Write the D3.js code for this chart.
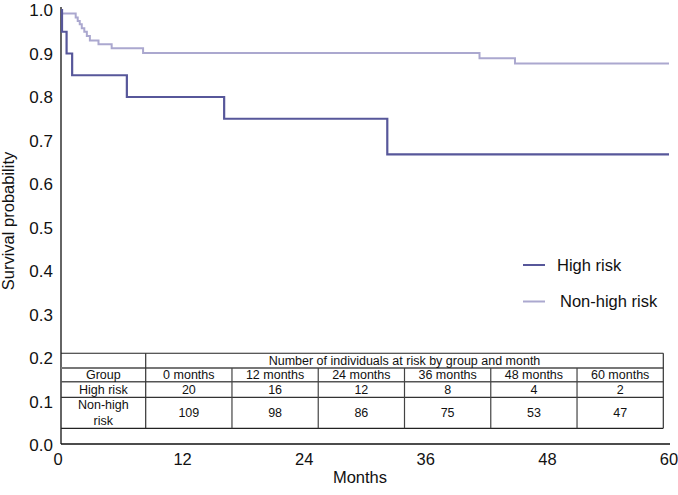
<!DOCTYPE html>
<html>
<head>
<meta charset="utf-8">
<script src="https://cdn.jsdelivr.net/npm/d3@7"></script>
<style>
  html, body { margin: 0; padding: 0; background: #fff; }
  svg { display: block; font-family: "Liberation Sans", Arial, Helvetica, sans-serif; }
</style>
</head>
<body>
<svg id="chart" width="678" height="495"></svg>
<script>
// ---- data ----
const xTicks = [0, 12, 24, 36, 48, 60];
const yTicks = [0, 0.1, 0.2, 0.3, 0.4, 0.5, 0.6, 0.7, 0.8, 0.9, 1.0];
const highRiskTimes = [0, 0.1, 0.55, 1.1, 6.5, 16.1, 32.2, 60];
const highRiskSurv  = [1.0, 0.95, 0.90, 0.85, 0.80, 0.75, 0.668, 0.668];
const nonHighTimes = [0, 0.1, 1.45, 1.65, 1.85, 2.05, 2.3, 2.55, 2.85, 3.7, 5.0, 8.1, 41.3, 44.8, 60];
const nonHighSurv  = [1.0, 0.992, 0.983, 0.975, 0.967, 0.958, 0.950, 0.940, 0.930, 0.921, 0.912, 0.901, 0.889, 0.877, 0.877];
const groups = ["High risk", "Non-high risk"];
const tableMonths = ["0 months", "12 months", "24 months", "36 months", "48 months", "60 months"];
const atRiskHigh = [20, 16, 12, 8, 4, 2];
const atRiskNonHigh = [109, 98, 86, 75, 53, 47];
const tableTitle = "Number of individuals at risk by group and month";

// ---- layout ----
const svg = d3.select("#chart");
const x = d3.scaleLinear().domain([0, 60]).range([61, 669]);
const y = d3.scaleLinear().domain([0, 1]).range([445, 10]);
const darkCol = "#57579a";
const lightCol = "#aba8cf";
const fs = 16.5;

// axes lines
svg.append("line").attr("x1", 61).attr("x2", 61).attr("y1", 7).attr("y2", 444)
  .attr("stroke", "#111").attr("stroke-width", 1.3);
svg.append("line").attr("x1", 61).attr("x2", 670).attr("y1", 444).attr("y2", 444)
  .attr("stroke", "#111").attr("stroke-width", 1.3);

// y tick labels
svg.append("g").selectAll("text").data(yTicks).join("text")
  .attr("x", 53).attr("y", d => y(d)).attr("dy", "0.36em")
  .attr("text-anchor", "end").attr("font-size", 17).attr("fill", "#111")
  .text(d => d3.format(".1f")(d));

// x tick labels
svg.append("g").selectAll("text").data(xTicks).join("text")
  .attr("x", d => d === 0 ? x(d) - 3 : x(d)).attr("y", 465)
  .attr("text-anchor", "middle").attr("font-size", fs).attr("fill", "#111")
  .text(d => d);

// axis titles
svg.append("text").attr("x", 360).attr("y", 483).attr("text-anchor", "middle")
  .attr("font-size", fs).attr("fill", "#111").text("Months");
svg.append("text").attr("transform", "translate(14,221) rotate(-90)")
  .attr("text-anchor", "middle").attr("font-size", fs).attr("fill", "#111")
  .text("Survival probability");

// survival curves
const line = d3.line().x(d => x(d[0])).y(d => y(d[1])).curve(d3.curveStepAfter);
svg.append("path").datum(d3.zip(nonHighTimes, nonHighSurv))
  .attr("d", line).attr("fill", "none").attr("stroke", lightCol).attr("stroke-width", 2);
svg.append("path").datum(d3.zip(highRiskTimes, highRiskSurv))
  .attr("d", line).attr("fill", "none").attr("stroke", darkCol).attr("stroke-width", 2.2);

// legend
const legend = svg.append("g");
[[groups[0], darkCol, 265, 557], [groups[1], lightCol, 301.5, 560]].forEach(([label, col, ly, tx]) => {
  legend.append("line").attr("x1", 523).attr("x2", 545).attr("y1", ly).attr("y2", ly)
    .attr("stroke", col).attr("stroke-width", 2);
  legend.append("text").attr("x", tx).attr("y", ly).attr("dy", "0.35em")
    .attr("font-size", fs).attr("fill", "#111").text(label);
});

// at-risk table
const tLeft = 61, tFirst = 145.7, tRight = 663.3;
const rowY = [353.3, 368, 381.7, 397.3, 428.3];
const col = d3.scaleBand().domain(tableMonths).range([tFirst, tRight]);
const tfs = 12.5;
const tbl = svg.append("g");
const hline = (y0, x1, x2, c, w) => tbl.append("line").attr("x1", x1).attr("x2", x2)
  .attr("y1", y0).attr("y2", y0).attr("stroke", c).attr("stroke-width", w);
const vline = (x0, y1, y2, c, w) => tbl.append("line").attr("x1", x0).attr("x2", x0)
  .attr("y1", y1).attr("y2", y2).attr("stroke", c).attr("stroke-width", w);
hline(rowY[0], tLeft, tRight, "#222", 1.1);
hline(rowY[1], tLeft, tRight, "#777", 2);
hline(rowY[2], tLeft, tRight, "#555", 1.6);
hline(rowY[3], tLeft, tRight, "#333", 1.3);
hline(rowY[4], tLeft, tRight, "#222", 1.2);
vline(tFirst, rowY[0], rowY[4], "#333", 1.2);
vline(tRight, rowY[0], rowY[4], "#333", 1.2);
tableMonths.slice(1).forEach(m => vline(col(m), rowY[1], rowY[4], "#444", 1.2));

const txt = (tx, ty, s) => tbl.append("text").attr("x", tx).attr("y", ty).attr("dy", "0.35em")
  .attr("text-anchor", "middle").attr("font-size", tfs).attr("fill", "#111").text(s);
const labelX = (tLeft + tFirst) / 2;
txt((tFirst + tRight) / 2, (rowY[0] + rowY[1]) / 2, tableTitle);
txt(labelX, (rowY[1] + rowY[2]) / 2, "Group");
txt(labelX, (rowY[2] + rowY[3]) / 2, groups[0]);
txt(labelX, 405, "Non-high");
txt(labelX, 420.5, "risk");
tableMonths.forEach((m, i) => {
  const cx = col(m) + col.bandwidth() / 2;
  txt(cx, (rowY[1] + rowY[2]) / 2, m);
  txt(cx, (rowY[2] + rowY[3]) / 2, atRiskHigh[i]);
  txt(cx, (rowY[3] + rowY[4]) / 2, atRiskNonHigh[i]);
});
</script>
</body>
</html>
